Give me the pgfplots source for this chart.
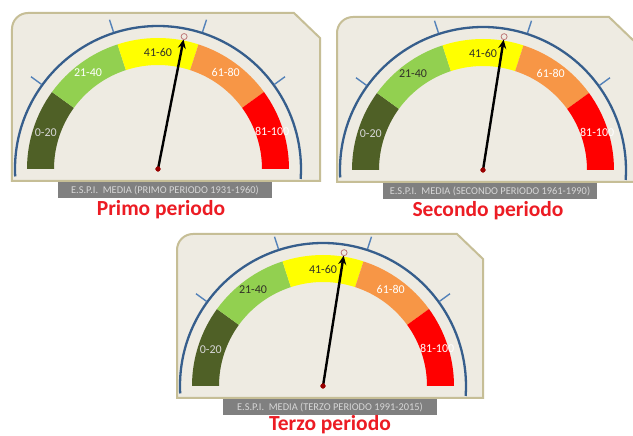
\documentclass[border=0pt]{standalone}
\usepackage{pgfplots}
\usepackage{pgfplotstable}
\pgfplotsset{compat=1.18}
\usetikzlibrary{arrows.meta}
\usepackage{fontspec}
\setmainfont{Carlito}

\definecolor{panelfill}{RGB}{238,235,226}
\definecolor{panelline}{RGB}{198,190,150}
\definecolor{bandA}{RGB}{79,96,38}
\definecolor{bandB}{RGB}{146,208,80}
\definecolor{bandC}{RGB}{255,255,0}
\definecolor{bandD}{RGB}{247,150,70}
\definecolor{bandE}{RGB}{255,0,0}
\definecolor{rimblue}{RGB}{54,94,140}
\definecolor{tickblue}{RGB}{84,130,185}
\definecolor{capgray}{RGB}{128,128,128}
\definecolor{captext}{RGB}{215,215,215}
\definecolor{titlered}{RGB}{236,28,36}
\definecolor{darklabel}{RGB}{50,50,40}
\definecolor{tipring}{RGB}{190,120,120}

% needle value (0-100 scale) of each period
\pgfplotstableread{
v r
56.2 0
56.2 1
}\primo
\pgfplotstableread{
v r
55 0
55 1
}\secondo
\pgfplotstableread{
v r
55 0
55 1
}\terzo

% a band of the 0-100 scale: #1 from, #2 to, #3 colour
\newcommand{\band}[3]{%
  \fill[#3] (axis cs:0,0) ++({180-1.8*#1}:131pt)
    arc[start angle={180-1.8*#1}, end angle={180-1.8*#2}, radius=131pt]
    -- ++({180-1.8*#2}:-27pt)
    arc[start angle={180-1.8*#2}, end angle={180-1.8*#1}, radius=104pt] -- cycle;}

% #1 cx, #2 cy, #3 table, #4 right edge, #5 top edge, #6 caption, #7 title,
% #8 colour of 21-40, #9 title position
\newcommand{\gauge}[9]{%
\begin{axis}[at={(#1pt,#2pt)}, anchor=origin, x=1pt, y=1pt,
  xmin=-150, xmax=165, ymin=-50, ymax=160, hide axis, clip=false]
  \filldraw[fill=panelfill, draw=panelline, line width=2pt]
    (axis cs:#4,-12) -- (axis cs:-146,-12) -- (axis cs:-146,{#5-16})
    arc[start angle=180, end angle=90, radius=16pt] -- (axis cs:{#4-26},#5) -- (axis cs:#4,{#5-25}) -- cycle;
  \fill[capgray] (axis cs:-100,-13.5) rectangle (axis cs:114,-29);
  \node[text=captext, font=\fontsize{10.4}{11}\selectfont, inner sep=0pt]
    at (axis cs:7,-21.5) {#6};
  \node[text=titlered, font=\bfseries\fontsize{21.5}{22}\selectfont, anchor=base]
    at (axis cs:#9) {#7};
  \band{0}{20}{bandA}
  \band{20}{40}{bandB}
  \band{40}{60}{bandC}
  \band{60}{80}{bandD}
  \band{80}{100}{bandE}
  \draw[rimblue, line width=2.3pt] (axis cs:0,0) ++(183:143pt)
    arc[start angle=183, end angle=-4, radius=143pt];
  \draw[tickblue, line width=1.4pt] (axis cs:0,0) ++(144:144pt) -- ++(144:13pt);
  \draw[tickblue, line width=1.4pt] (axis cs:0,0) ++(108:144pt) -- ++(108:13pt);
  \draw[tickblue, line width=1.4pt] (axis cs:0,0) ++(72:144pt) -- ++(72:13pt);
  \draw[tickblue, line width=1.4pt] (axis cs:0,0) ++(36:144pt) -- ++(36:13pt);
  \path[font=\fontsize{12}{12}\selectfont]
    (axis cs:0,0) ++(162:118pt) node[text=captext] {0-20}
    (axis cs:0,0) ++(126:119pt) node[text=#8] {21-40}
    (axis cs:0,0) ++(90:117pt) node[text=darklabel] {41-60}
    (axis cs:0,0) ++(55:118pt) node[text=white] {61-80}
    (axis cs:0,0) ++(18:120pt) node[text=white] {81-100};
  \addplot[black, line width=2.4pt, -{Stealth[length=9pt,width=8pt]}]
    table[x expr={132*\thisrow{r}*cos(180-1.8*\thisrow{v})},
          y expr={132*\thisrow{r}*sin(180-1.8*\thisrow{v})}] {#3};
  \addplot[only marks, mark=o, mark size=3pt, mark options={draw=tipring, line width=0.8pt},
    skip coords between index={0}{1}]
    table[x expr={135*\thisrow{r}*cos(180-1.8*\thisrow{v})},
          y expr={135*\thisrow{r}*sin(180-1.8*\thisrow{v})}] {#3};
  \addplot[only marks, mark=*, mark size=2.4pt, color=red!60!black] coordinates {(0,0)};
\end{axis}}

\begin{document}
\begin{tikzpicture}
\path[use as bounding box, fill=white] (0,0) rectangle (633pt,436pt);
\gauge{158}{267}{\primo}{162}{156}{E.S.P.I.\ \ MEDIA (PRIMO PERIODO 1931-1960)}{Primo periodo}{white}{3,-47}
\gauge{483}{266}{\secondo}{152}{153}{E.S.P.I.\ \ MEDIA (SECONDO PERIODO 1961-1990)}{Secondo periodo}{darklabel}{5,-47}
\gauge{323}{50}{\terzo}{160}{152}{E.S.P.I.\ \ MEDIA (TERZO PERIODO 1991-2015)}{Terzo periodo}{darklabel}{7,-44.5}
\end{tikzpicture}
\end{document}
